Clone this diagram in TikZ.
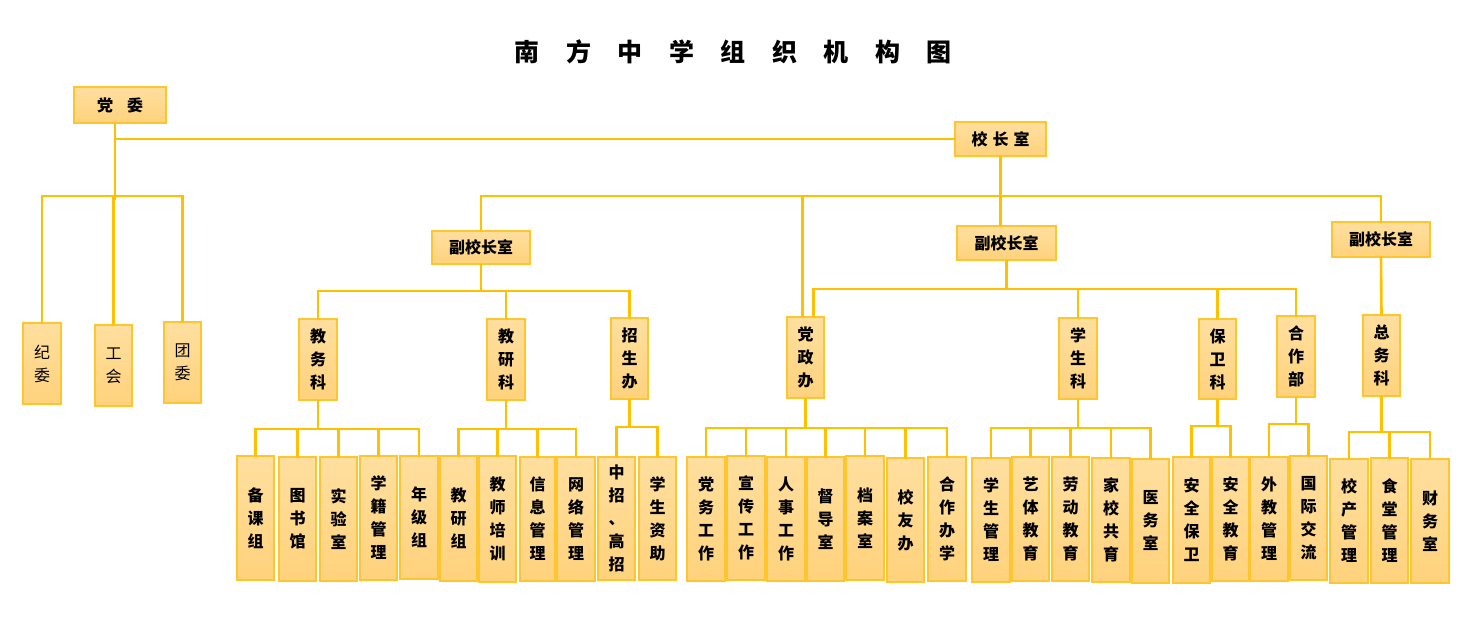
\documentclass[tikz,border=0pt]{standalone}
\usepackage{fontspec}
\newfontfamily\cjk{Noto Sans CJK SC}
\usetikzlibrary{calc}
\definecolor{lc}{HTML}{FFC000}
\definecolor{boxline}{HTML}{FFC52E}
\definecolor{boxtop}{HTML}{FFDF9F}
\definecolor{boxbot}{HTML}{FFD27C}
\tikzset{
  box/.style={draw=boxline, line width=1.2pt, top color=boxtop, bottom color=boxbot,
    inner sep=0pt, outer sep=0pt, align=center, text=black,
    font=\cjk\bfseries\fontsize{16}{23}\selectfont},
  lightbox/.style={box, font=\cjk\fontsize{16}{23}\selectfont},
  conn/.style={draw=lc, line width=2.6pt},
  subconn/.style={draw=lc, line width=2.2pt},
}
\newcommand\bx[7][]{\node[box,#1,minimum width={(#5-#3)*1pt},minimum height={(#6-#4)*1pt}] (#2) at ({(#3+#5)/2},{(#4+#6)/2}) {#7};}
\begin{document}
\begin{tikzpicture}[x=1pt,y=-1pt]
\useasboundingbox (0,0) rectangle (1480,633);
% title
\foreach \c [count=\i] in {南,方,中,学,组,织,机,构,图}
  \node[font=\cjk\bfseries\fontsize{25}{25}\selectfont, inner sep=0pt] (t\i) at ({527+(\i-1)*51.5},52) {\c};
% top level
\bx{dw}{74}{87}{166}{123}{党\hspace{14pt}委}
\bx{xz}{955}{122}{1046}{156}{校\hspace{5pt}长\hspace{5pt}室}
\bx[lightbox]{jw}{23}{323}{61}{404}{纪\\委}
\bx[lightbox]{gh}{95}{325}{132}{406}{工\\会}
\bx[lightbox]{tw}{164}{322}{201}{403}{团\\委}
\bx{vpa}{432}{231}{530}{264}{副校长室}
\bx{vpb}{957}{226}{1056}{260}{副校长室}
\bx{vpc}{1332}{222}{1430}{257}{副校长室}
% level 2
\bx{jwk}{299}{319}{337}{400}{教\\务\\科}
\bx{jyk}{487}{319}{525}{400}{教\\研\\科}
\bx{zsb}{611}{318}{648}{399}{招\\生\\办}
\bx{dzb}{787}{317}{824}{398}{党\\政\\办}
\bx{xsk}{1059}{318}{1097}{399}{学\\生\\科}
\bx{bwk}{1199}{319}{1236}{399}{保\\卫\\科}
\bx{hzb}{1277}{316}{1315}{397}{合\\作\\部}
\bx{zwk}{1363}{315}{1400}{396}{总\\务\\科}
% level 3
\bx{bkz}{237}{456}{274}{580}{备\\课\\组}
\bx{tsg}{279}{457}{316}{581}{图\\书\\馆}
\bx{sys}{320}{457}{357}{581}{实\\验\\室}
\bx{xjgl}{360}{456}{397}{580}{学\\籍\\管\\理}
\bx{njz}{400}{456}{438}{579}{年\\级\\组}
\bx{jyz}{440}{456}{477}{581}{教\\研\\组}
\bx{jspx}{479}{456}{516}{582}{教\\师\\培\\训}
\bx{xxgl}{520}{457}{555}{581}{信\\息\\管\\理}
\bx{wlgl}{557}{457}{595}{581}{网\\络\\管\\理}
\bx{zzgz}{598}{457}{635}{580}{中\\招\\、\\高\\招}
\bx{xszz}{639}{457}{676}{580}{学\\生\\资\\助}
\bx{dwgz}{687}{457}{725}{581}{党\\务\\工\\作}
\bx{xcgz}{727}{456}{765}{580}{宣\\传\\工\\作}
\bx{rsgz}{767}{457}{805}{581}{人\\事\\工\\作}
\bx{ddsh}{807}{457}{844}{581}{督\\导\\室}
\bx{das}{846}{456}{884}{580}{档\\案\\室}
\bx{xyb}{887}{458}{924}{582}{校\\友\\办}
\bx{hzbx}{928}{457}{966}{581}{合\\作\\办\\学}
\bx{xsgl}{972}{458}{1010}{582}{学\\生\\管\\理}
\bx{ytjy}{1012}{457}{1049}{581}{艺\\体\\教\\育}
\bx{ldjy}{1052}{457}{1089}{581}{劳\\动\\教\\育}
\bx{jxgy}{1092}{458}{1130}{582}{家\\校\\共\\育}
\bx{yws}{1132}{459}{1169}{583}{医\\务\\室}
\bx{aqbw}{1173}{457}{1210}{583}{安\\全\\保\\卫}
\bx{aqjy}{1212}{457}{1249}{581}{安\\全\\教\\育}
\bx{wjgl}{1250}{457}{1288}{581}{外\\教\\管\\理}
\bx{gjjl}{1290}{456}{1327}{580}{国\\际\\交\\流}
\bx{xcgl}{1330}{459}{1368}{583}{校\\产\\管\\理}
\bx{stgl}{1371}{458}{1408}{583}{食\\堂\\管\\理}
\bx{cws}{1411}{459}{1449}{583}{财\\务\\室}
% bus coordinates
\coordinate (bA) at (0,196);
\coordinate (bB) at (0,196);
\coordinate (bC) at (0,291);
\coordinate (bD) at (0,289);
\coordinate (b1) at (0,429);
\coordinate (b2) at (0,429);
\coordinate (b3) at (0,427);
\coordinate (b4) at (0,428);
\coordinate (b5) at (0,428);
\coordinate (b6) at (0,426);
\coordinate (b7) at (0,424);
\coordinate (b8) at (0,432);
% connectors: party committee
\coordinate (dwS) at ($(dw.south)+(-5,0)$);
\draw[conn] (dwS) -- ($(dwS |- bA)+(0,4)$);
\draw[conn] (dwS |- xz.west) -- (xz.west);
\draw[conn] (jw.north) -- (jw.north |- bA) -- (tw.north |- bA) -- (tw.north);
\draw[conn] (gh.north) -- (gh.north |- bA);
% principal
\draw[conn] (xz.south) -- (xz.south |- vpb.north);
\draw[conn] (vpa.north) -- (vpa.north |- bB) -- (vpc.north |- bB) -- (vpc.north);
\coordinate (dzL) at ($(dzb.north)+(-3,0)$);
\coordinate (dzR) at ($(dzb.north)+(8,0)$);
\draw[conn] (dzL) -- (dzL |- bB);
% vice principal A
\draw[conn] (vpa.south) -- (vpa.south |- bC);
\draw[conn] (jwk.north) -- (jwk.north |- bC) -- (zsb.north |- bC) -- (zsb.north);
\draw[conn] (jyk.north) -- (jyk.north |- bC);
% vice principal B
\draw[conn] (vpb.south) -- (vpb.south |- bD);
\draw[conn] (dzR) -- (dzR |- bD) -- (hzb.north |- bD) -- (hzb.north);
\draw[conn] (xsk.north) -- (xsk.north |- bD);
\draw[conn] (bwk.north) -- (bwk.north |- bD);
% vice principal C
\draw[conn] (vpc.south) -- (zwk.north);
% level 3 buses
\draw[subconn] (jwk.south) -- (jwk.south |- b1);
\draw[subconn] (bkz.north) -- (bkz.north |- b1) -- (njz.north |- b1) -- (njz.north);
\draw[subconn] (tsg.north) -- (tsg.north |- b1);
\draw[subconn] (sys.north) -- (sys.north |- b1);
\draw[subconn] (xjgl.north) -- (xjgl.north |- b1);
\draw[subconn] (jyk.south) -- (jyk.south |- b2);
\draw[subconn] (jyz.north) -- (jyz.north |- b2) -- (wlgl.north |- b2) -- (wlgl.north);
\draw[subconn] (jspx.north) -- (jspx.north |- b2);
\draw[subconn] (xxgl.north) -- (xxgl.north |- b2);
\draw[subconn] (zsb.south) -- (zsb.south |- b3);
\draw[subconn] (zzgz.north) -- (zzgz.north |- b3) -- (xszz.north |- b3) -- (xszz.north);
\draw[subconn] (dzb.south) -- (dzb.south |- b4);
\draw[subconn] (dwgz.north) -- (dwgz.north |- b4) -- (hzbx.north |- b4) -- (hzbx.north);
\draw[subconn] (xcgz.north) -- (xcgz.north |- b4);
\draw[subconn] (rsgz.north) -- (rsgz.north |- b4);
\draw[subconn] (ddsh.north) -- (ddsh.north |- b4);
\draw[subconn] (das.north) -- (das.north |- b4);
\draw[subconn] (xyb.north) -- (xyb.north |- b4);
\draw[subconn] (xsk.south) -- (xsk.south |- b5);
\draw[subconn] (xsgl.north) -- (xsgl.north |- b5) -- (yws.north |- b5) -- (yws.north);
\draw[subconn] (ytjy.north) -- (ytjy.north |- b5);
\draw[subconn] (ldjy.north) -- (ldjy.north |- b5);
\draw[subconn] (jxgy.north) -- (jxgy.north |- b5);
\draw[subconn] (bwk.south) -- (bwk.south |- b6);
\draw[subconn] (aqbw.north) -- (aqbw.north |- b6) -- (aqjy.north |- b6) -- (aqjy.north);
\draw[subconn] (hzb.south) -- (hzb.south |- b7);
\draw[subconn] (wjgl.north) -- (wjgl.north |- b7) -- (gjjl.north |- b7) -- (gjjl.north);
\draw[subconn] (zwk.south) -- (zwk.south |- b8);
\draw[subconn] (xcgl.north) -- (xcgl.north |- b8) -- (cws.north |- b8) -- (cws.north);
\draw[subconn] (stgl.north) -- (stgl.north |- b8);
\end{tikzpicture}
\end{document}
